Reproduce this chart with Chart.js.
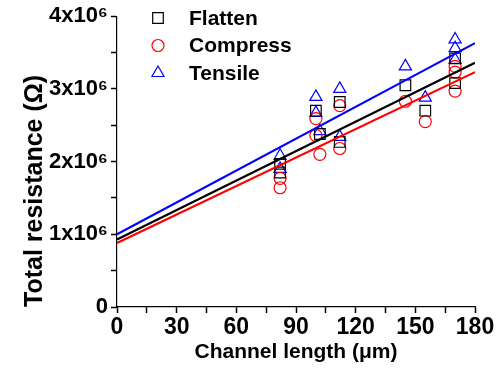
<!DOCTYPE html>
<html>
<head>
<meta charset="utf-8">
<script src="https://cdn.jsdelivr.net/npm/chart.js@4.4.0/dist/chart.umd.min.js"></script>
<style>
  html, body { margin: 0; padding: 0; background: #fff; }
  #wrap { width: 500px; height: 374px; }
</style>
</head>
<body>
<div id="wrap"><canvas id="chart" width="500" height="374"></canvas></div>
<script>
// channel length (um) and total resistance (ohm)
const flattenX   = [82, 82, 100, 102, 112, 112, 145, 155, 170, 170];
const flattenY   = [1.97e6, 1.85e6, 2.70e6, 2.38e6, 2.82e6, 2.27e6, 3.05e6, 2.70e6, 3.42e6, 3.08e6];
const compressX  = [82, 82, 100, 100, 102, 112, 112, 145, 155, 170, 170, 170];
const compressY  = [1.77e6, 1.64e6, 2.59e6, 2.36e6, 2.10e6, 2.77e6, 2.18e6, 2.83e6, 2.55e6, 3.31e6, 3.23e6, 2.97e6];
const tensileX   = [82, 82, 100, 100, 102, 112, 112, 145, 155, 170, 170, 170];
const tensileY   = [2.08e6, 1.90e6, 2.89e6, 2.67e6, 2.42e6, 3.00e6, 2.34e6, 3.31e6, 2.88e6, 3.68e6, 3.56e6, 3.40e6];

// linear fits: intercept and slope (ohm per um)
const seriesNames = ['Flatten', 'Compress', 'Tensile'];
const fitIntercept = [0.93e6, 0.88e6, 1.00e6];
const fitSlope     = [0.0135e6, 0.01306e6, 0.01461e6];
const fitRange     = [0, 180];

const xTicks = [0, 30, 60, 90, 120, 150, 180];
const yTicks = [0, 1e6, 2e6, 3e6, 4e6];

const colors = ['#000000', '#ff0000', '#0000ff'];
const styles = ['rect', 'circle', 'triangle'];
const radii  = [7.5, 6, 7];

function pts(xs, ys) {
    return xs.map((x, i) => ({ x: x, y: ys[i] }));
}

const FONT = "'Liberation Sans', Arial, 'DejaVu Sans', sans-serif";

const scatterSets = [pts(flattenX, flattenY), pts(compressX, compressY), pts(tensileX, tensileY)].map((d, i) => ({
    type: 'scatter',
    label: seriesNames[i],
    data: d,
    pointStyle: styles[i],
    pointRadius: radii[i],
    pointBorderColor: colors[i],
    pointBackgroundColor: 'rgba(0,0,0,0)',
    pointBorderWidth: 1.2,
    showLine: false,
    order: 2
}));

const fitSets = seriesNames.map((name, i) => ({
    type: 'line',
    label: name + ' fit',
    data: fitRange.map(x => ({ x: x, y: fitIntercept[i] + fitSlope[i] * x })),
    borderColor: colors[i],
    borderWidth: 2.2,
    pointRadius: 0,
    fill: false,
    order: 1
}));

// legend drawn inside the plot, stacked vertically
const innerLegend = {
    id: 'innerLegend',
    afterDraw(chart) {
        const ctx = chart.ctx;
        ctx.save();
        seriesNames.forEach((name, i) => {
            const y = 18 + i * 27.5;
            ctx.strokeStyle = colors[i];
            ctx.fillStyle = 'rgba(0,0,0,0)';
            ctx.lineWidth = 1.2;
            Chart.helpers.drawPoint(ctx, { pointStyle: styles[i], radius: radii[i], borderWidth: 1.2, rotation: 0 }, 158, y);
            ctx.fillStyle = '#000';
            ctx.font = 'bold 21px ' + FONT;
            ctx.textBaseline = 'middle';
            ctx.textAlign = 'left';
            ctx.fillText(name, 189, y + 1);
        });
        ctx.restore();
    }
};

const ctx = document.getElementById('chart');
new Chart(ctx, {
    type: 'scatter',
    data: { datasets: scatterSets.concat(fitSets) },
    options: {
        responsive: false,
        animation: false,
        layout: { padding: { left: 0, right: 25, top: 15, bottom: 0 } },
        plugins: {
            legend: { display: false },
            tooltip: { enabled: false }
        },
        scales: {
            x: {
                type: 'linear',
                min: xTicks[0],
                max: xTicks[xTicks.length - 1],
                afterFit(scale) { scale.height = 67; },
                ticks: {
                    stepSize: 15,
                    autoSkip: false,
                    maxRotation: 0,
                    padding: 1,
                    color: '#000',
                    font: { family: FONT, size: 23, weight: 'bold' },
                    callback: v => xTicks.includes(v) ? String(v) : ''
                },
                grid: { display: true, drawOnChartArea: false, drawTicks: true, color: '#000', tickColor: '#000', tickLength: 6, tickWidth: 1.5 },
                border: { color: '#000', width: 1.2 },
                title: {
                    display: true,
                    text: 'Channel length (μm)',
                    color: '#000',
                    font: { family: FONT, size: 21, weight: 'bold' },
                    padding: { top: 0, bottom: 9 }
                }
            },
            y: {
                type: 'linear',
                min: yTicks[0],
                max: yTicks[yTicks.length - 1],
                afterFit(scale) { scale.width = 117; },
                ticks: {
                    stepSize: 0.5e6,
                    autoSkip: false,
                    padding: 3,
                    color: '#000',
                    font: { family: FONT, size: 22, weight: 'bold' },
                    callback: v => {
                        if (!yTicks.includes(v)) return '';
                        if (v === 0) return '0';
                        return (v / 1e6) + 'x10⁶';
                    }
                },
                grid: { display: true, drawOnChartArea: false, drawTicks: true, color: '#000', tickColor: '#000', tickLength: 6, tickWidth: 1.5 },
                border: { color: '#000', width: 1.2 },
                title: {
                    display: true,
                    align: 'start',
                    text: 'Total resistance (Ω)',
                    color: '#000',
                    font: { family: FONT, size: 25, weight: 'bold' },
                    padding: { top: 20, bottom: 0 }
                }
            }
        }
    },
    plugins: [innerLegend]
});
</script>
</body>
</html>
